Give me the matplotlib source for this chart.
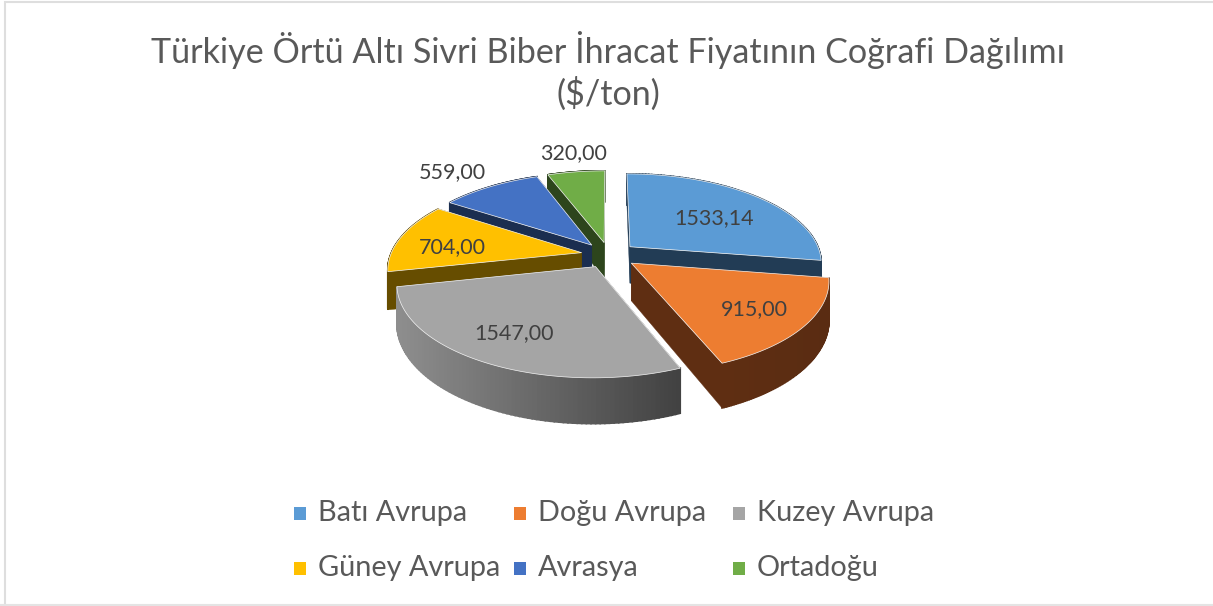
import numpy as np
import matplotlib
matplotlib.use("Agg")
import matplotlib.pyplot as plt
from matplotlib.patches import Rectangle, Polygon
from matplotlib.colors import to_rgb

categories = ["Batı Avrupa", "Doğu Avrupa", "Kuzey Avrupa", "Güney Avrupa", "Avrasya", "Ortadoğu"]
values = [1533.14, 915.00, 1547.00, 704.00, 559.00, 320.00]
title = "Türkiye Örtü Altı Sivri Biber İhracat Fiyatının Coğrafi Dağılımı\n($/ton)"

top_colors = ["#5B9BD5", "#ED7D31", "#A5A5A5", "#FFC000", "#4472C4", "#70AD47"]
side_colors = ["#223C55", "#5F2E12", "#5A5A5A", "#664D00", "#1B2E50", "#2D451C"]
arc_left = ["#223C55", "#5F2E12", "#8E8E8E", "#664D00", "#1B2E50", "#2D451C"]
arc_right = ["#223C55", "#5A2C12", "#414141", "#664D00", "#1B2E50", "#2D451C"]
draw_order = [0, 5, 4, 3, 1, 2]
label_xy = [(714.5, 218), (754, 309), (514, 333), (452, 247), (452, 172), (574, 153)]

plt.rcParams["font.family"] = ["Lato", "DejaVu Sans"]
W, H = 1213, 606
fig = plt.figure(figsize=(W / 100, H / 100), dpi=100)
ax = fig.add_axes([0, 0, 1, 1])
ax.set_xlim(0, W)
ax.set_ylim(H, 0)
ax.axis("off")

CX, CY, R, EXPL, TILT, PERSP, DEPTH = 609, 255, 191, 28, 0.46, 0.17, 37


def project(x, y, z=0.0):
    s = 1 / (1 - PERSP * np.asarray(y) / R)
    return CX + np.asarray(x) * s, CY + (TILT * np.asarray(y) + z) * s


fractions = np.array(values) / np.sum(values)
edges = np.concatenate([[0], np.cumsum(fractions)]) * 2 * np.pi

# chart frame: the reference shows it on the left, top and bottom only
ax.plot([W, 5, 5], [2.2, 2.2, H], color="#DEDEDE", lw=1.5, zorder=0, solid_joinstyle="miter")
ax.plot([0, W], [605.2, 605.2], color="#E4E4E4", lw=1.5, zorder=0)

for z, i in enumerate(draw_order):
    a0, a1 = edges[i], edges[i + 1]
    mid = (a0 + a1) / 2
    ox, oy = EXPL * np.sin(mid), -EXPL * np.cos(mid)
    t = np.linspace(a0, a1, 90)
    X = ox + R * np.sin(t)
    Y = oy - R * np.cos(t)
    tx, ty = project(X, Y)
    bx, by = project(X, Y, DEPTH)
    ax_, ay_ = project(ox, oy)
    abx, aby = project(ox, oy, DEPTH)
    base = 10 + z * 3
    # radial faces
    for j in (0, -1):
        ax.add_patch(Polygon([(ax_, ay_), (tx[j], ty[j]), (bx[j], by[j]), (abx, aby)],
                             fc=side_colors[i], ec=side_colors[i], lw=0.3, zorder=base))
    # outer wall, shaded strip by strip
    cl, cr = np.array(to_rgb(arc_left[i])), np.array(to_rgb(arc_right[i]))
    xmin, xmax = tx.min(), tx.max()
    for j in range(len(t) - 1):
        f = ((tx[j] + tx[j + 1]) / 2 - xmin) / max(xmax - xmin, 1)
        c = cl + (cr - cl) * f
        ax.add_patch(Polygon([(tx[j], ty[j]), (tx[j + 1], ty[j + 1]), (bx[j + 1], by[j + 1]), (bx[j], by[j])],
                             fc=c, ec=c, lw=1.2, zorder=base + 1))
    # top face
    ax.add_patch(Polygon(np.column_stack([np.r_[ax_, tx], np.r_[ay_, ty]]),
                         fc=top_colors[i], ec="#F4F4F4", lw=0.5, zorder=base + 2))

for v, (lx, ly) in zip(values, label_xy):
    ax.text(lx, ly, f"{v:.2f}".replace(".", ","), ha="center", va="center",
            color="#404040", fontsize=15.5, zorder=50)

for line, ly in zip(title.split("\n"), (50, 94)):
    ax.text(608, ly, line, ha="center", va="center", color="#595959", fontsize=24.6, zorder=50)

legend_x = [294, 514, 733]
legend_y = [513, 568]
for k, (name, col) in enumerate(zip(categories, top_colors)):
    lx, ly = legend_x[k % 3], legend_y[k // 3]
    ax.add_patch(Rectangle((lx, ly - 6.5), 11.5, 13, fc=col, ec="none", zorder=50))
    ax.text(lx + 24, ly, name, ha="left", va="center", color="#595959", fontsize=20.8, zorder=50)

fig.savefig("out.png", dpi=100)
